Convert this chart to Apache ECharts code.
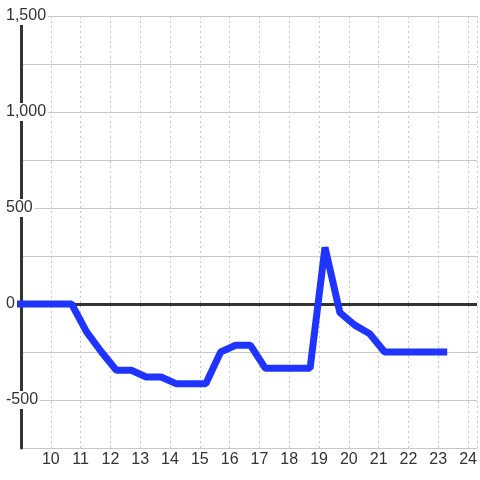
<!DOCTYPE html>
<html>
<head>
<meta charset="utf-8">
<script src="https://cdn.jsdelivr.net/npm/echarts@6/dist/echarts.min.js"></script>
<style>
  html, body { margin: 0; padding: 0; background: #fff; }
  #chart { width: 480px; height: 480px; }
</style>
</head>
<body>
<div id="chart"></div>
<script>
// time of day (hours) and values
var hours = [8.7, 9.2, 9.7, 10.2, 10.7, 11.2, 11.7, 12.2, 12.7, 13.2,
             13.7, 14.2, 14.7, 15.2, 15.7, 16.2, 16.7, 17.2, 17.7, 18.2,
             18.7, 19.2, 19.7, 20.2, 20.7, 21.2, 21.7, 22.2, 22.7, 23.3];
var values = [0, 0, 0, 0, 0, -145, -250, -345, -345, -380,
              -380, -415, -415, -415, -250, -215, -215, -335, -335, -335,
              -335, 295, -45, -110, -155, -250, -250, -250, -250, -250];
var yLabelValues = [-500, 0, 500, 1000, 1500];

var points = [];
for (var i = 0; i < hours.length; i++) {
    points.push([hours[i], values[i]]);
}

var chart = echarts.init(document.getElementById('chart'));
var font = 'Liberation Sans, Arial, sans-serif';

var option = {
    animation: false,
    backgroundColor: '#fff',
    grid: { left: 21, right: 0, top: 16, bottom: 32 },
    xAxis: {
        type: 'value',
        min: 9,
        max: 24.3,
        interval: 1,
        axisLine: { show: false },
        axisTick: { show: false },
        axisLabel: {
            color: '#333',
            fontSize: 16,
            fontFamily: font,
            margin: 4,
            formatter: function (v) {
                return (v % 1 === 0 && v > 9) ? String(v) : '';
            }
        },
        splitLine: { show: true, lineStyle: { color: '#c8c8c8', type: [2, 3], width: 1 } }
    },
    yAxis: {
        type: 'value',
        min: -750,
        max: 1500,
        interval: 250,
        axisLine: { show: true, onZero: false, lineStyle: { color: '#333', width: 3 } },
        axisTick: { show: false },
        axisLabel: {
            align: 'left',
            margin: 17,
            formatter: function (v) {
                if (yLabelValues.indexOf(v) < 0) return '';
                return '{a|' + v.toLocaleString('en-US') + '}';
            },
            rich: {
                a: {
                    color: '#333',
                    fontSize: 16,
                    fontFamily: font,
                    backgroundColor: '#fff',
                    padding: [1, 2, 1, 2]
                }
            }
        },
        splitLine: { show: true, lineStyle: { color: '#c8c8c8', width: 1 } }
    },
    series: [
        {
            type: 'line',
            data: points,
            showSymbol: false,
            symbol: 'none',
            lineStyle: { color: '#1f35ff', width: 7 },
            markLine: {
                silent: true,
                z: 1,
                symbol: 'none',
                label: { show: false },
                lineStyle: { color: '#333', width: 3, type: 'solid' },
                data: [{ yAxis: 0 }]
            }
        }
    ]
};
chart.setOption(option);
</script>
</body>
</html>
